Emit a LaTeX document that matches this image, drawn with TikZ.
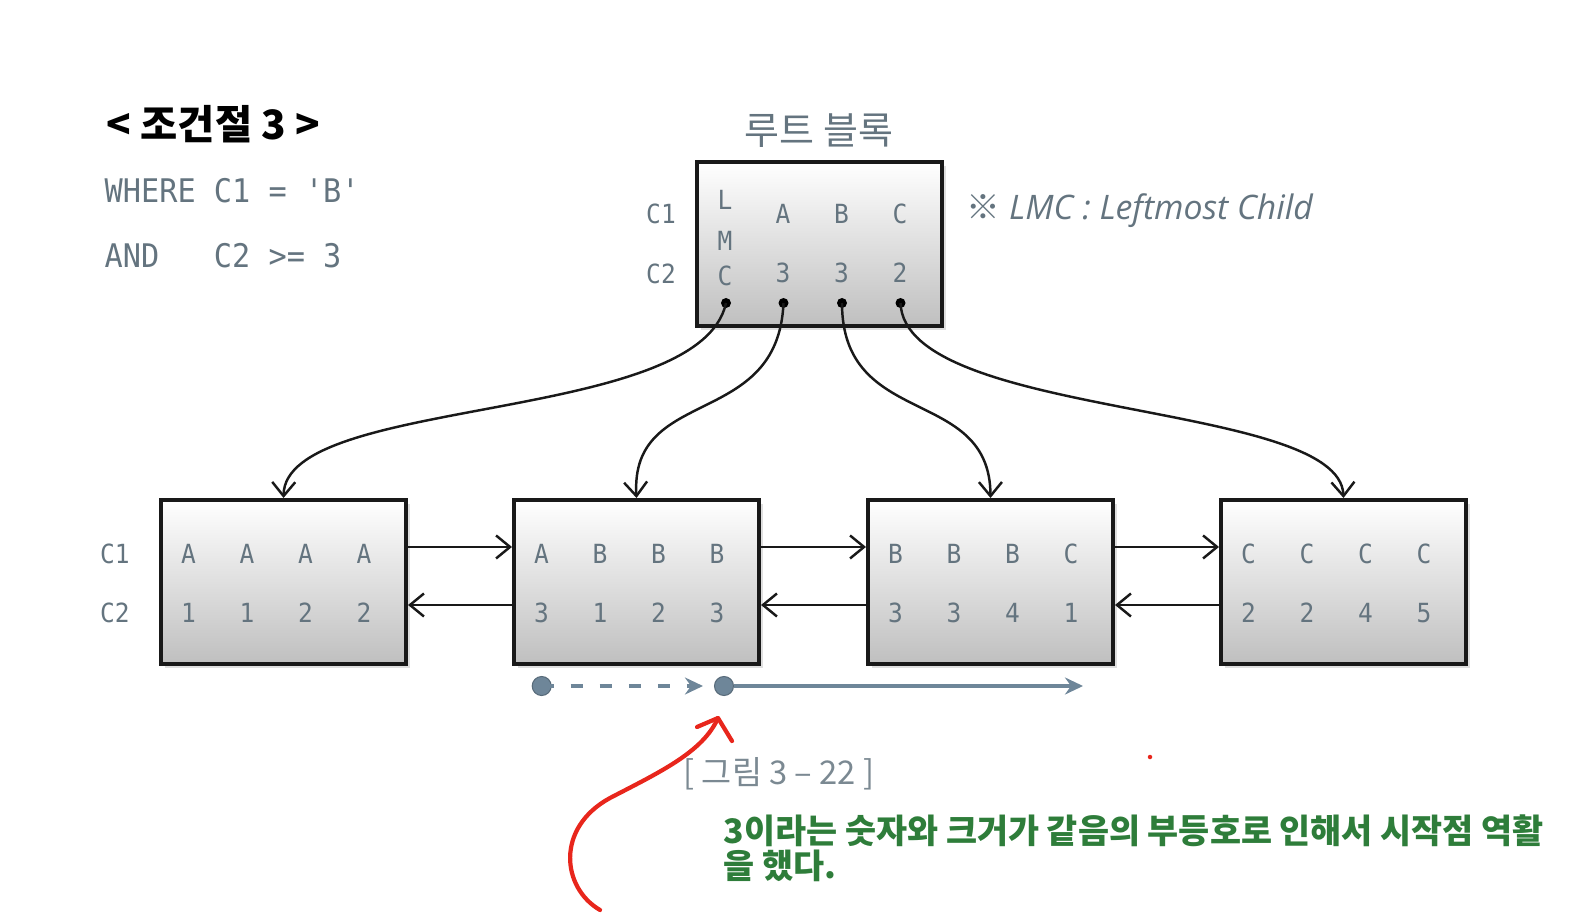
\documentclass[tikz,border=0pt]{standalone}
\usepackage{fontspec}
\usetikzlibrary{arrows.meta,shadows}
\newfontfamily\krfont{Noto Sans CJK KR}
\newfontfamily\sqlfont{DejaVu Sans Mono}[FakeStretch=0.93]
\newfontfamily\notefont{Open Sans}
\definecolor{txtgray}{HTML}{64747F}
\definecolor{scanblue}{HTML}{6E8699}
\definecolor{notegreen}{HTML}{2E7D3A}
\definecolor{penred}{HTML}{E8261C}
\tikzset{
  blok/.style={draw=black!90, line width=1.1pt, minimum width=2.45cm, minimum height=1.64cm,
    inner sep=0pt, top color=white, bottom color=black!25,
    drop shadow={shadow xshift=0.04cm, shadow yshift=-0.04cm, opacity=0.25}},
  key/.style={text=txtgray, font=\sqlfont\fontsize{7.5}{9}\selectfont, inner sep=0pt},
  sql/.style={text=txtgray, font=\sqlfont\fontsize{9.25}{11}\selectfont, inner sep=0pt},
  ptr/.style={circle, fill=black, inner sep=0pt, minimum size=0.1cm},
  link/.style={-{Straight Barb[length=1.4mm,width=2.3mm]}, line width=0.7pt, black!90},
  scandot/.style={circle, fill=scanblue, draw=scanblue!80!black, line width=0.3pt, inner sep=0pt, minimum size=0.19cm},
  scan/.style={scanblue, line width=1pt, -{Stealth[length=1.8mm,width=1.7mm,inset=0.6mm]}},
  pen/.style={penred, line width=1.2pt, line cap=round, line join=round},
}
\newcommand{\Keys}[4]{
  \foreach \c/\v [count=\i] in #4{
    \node[key] (#1-c\i) at ({#2+29.5+58.5*(\i-1)},#3) {\c};
    \node[key] (#1-v\i) at ({#2+29.5+58.5*(\i-1)},{#3+59}) {\v};
  }
}
\begin{document}
\begin{tikzpicture}[x=0.01cm, y=-0.01cm]
  \useasboundingbox (0,0) rectangle (1584,918);
  \node[anchor=west, inner sep=0pt, font=\krfont\bfseries\fontsize{11.5}{13}\selectfont] (cond) at (106,124) {< 조건절 3 >};
  \node[sql, anchor=west] (where) at (104,191) {WHERE C1 = 'B'};
  \node[sql, anchor=west] (and) at (104,256) {AND~~~C2 >= 3};

  \node[text=txtgray, inner sep=0pt, font=\krfont\fontsize{10.8}{12}\selectfont] (roottitle) at (819,131) {루트 블록};
  \node[blok, anchor=north west] (root) at (695,160) {};
  \node[key] (root-l1) at (661,214) {C1};
  \node[key] (root-l2) at (661,274) {C2};
  \node[key] (lmc-l) at (725,200) {L};
  \node[key] (lmc-m) at (725,241) {M};
  \node[key] (lmc-c) at (725,276) {C};
  \Keys{root}{753.5}{214}{{A/3,B/3,C/2}}
  \foreach \x [count=\i] in {726,783.5,842,900.5}
    \node[ptr] (d\i) at (\x,303) {};
  \node[anchor=west, inner sep=0pt, text=txtgray, font=\notefont\itshape\fontsize{9.6}{11}\selectfont] (lmcnote) at (966,211) {{\krfont\upshape ※} LMC : Leftmost Child};

  \foreach \nm/\lx/\ks in {leafA/159/{A/1,A/1,A/2,A/2}, leafB/512/{A/3,B/1,B/2,B/3},
                           leafC/866/{B/3,B/3,B/4,C/1}, leafD/1219/{C/2,C/2,C/4,C/5}}{
    \node[blok, anchor=north west] (\nm) at (\lx,498) {};
    \Keys{\nm}{\lx}{554}{\ks}
  }
  \node[key] (leaf-l1) at (115,554) {C1};
  \node[key] (leaf-l2) at (115,613) {C2};

  \draw[link] (d1.center) .. controls (700,425) and (285,395) .. (leafA.north);
  \draw[link] (d2.center) .. controls (778,430) and (630,385) .. (leafB.north);
  \draw[link] (d3.center) .. controls (842,430) and (990,385) .. (leafC.north);
  \draw[link] (d4.center) .. controls (905,420) and (1340,400) .. (leafD.north);

  \foreach \a/\b in {leafA/leafB, leafB/leafC, leafC/leafD}{
    \draw[link] ([yshift=0.35cm]\a.east) -- ([yshift=0.35cm]\b.west);
    \draw[link] ([yshift=-0.23cm]\b.west) -- ([yshift=-0.23cm]\a.east);
  }

  \node[scandot] (s1) at (541.7,686) {};
  \node[scandot] (s2) at (724,686) {};
  \coordinate (scanend) at (1083,686);
  \draw[scan, dash pattern=on 0.12cm off 0.17cm] (s1.center) -- ([xshift=-0.11cm]s2.west);
  \draw[scan] (s2.east) -- (scanend);

  \node[text=txtgray!85, inner sep=0pt, font=\krfont\fontsize{9.3}{10}\selectfont] (caption) at (779,774) {[ 그림 3 – 22 ]};

  \coordinate (redtip) at (718,718);
  \draw[pen] (600,910) .. controls (562,888) and (555,828) .. (610,798)
    .. controls (660,772) and (703,752) .. (redtip);
  \draw[pen] (697,727) -- (redtip) -- (732,741);
  \node[circle, fill=penred, inner sep=0pt, minimum size=0.045cm] (speck) at (1150,757) {};

  \node[anchor=north west, align=left, inner sep=0pt, text=notegreen,
    font=\krfont\bfseries\fontsize{9.6}{9.9}\selectfont] (remark) at (723,814)
    {3이라는 숫자와 크거가 같음의 부등호로 인해서 시작점 역활\\을 했다.};
\end{tikzpicture}
\end{document}
